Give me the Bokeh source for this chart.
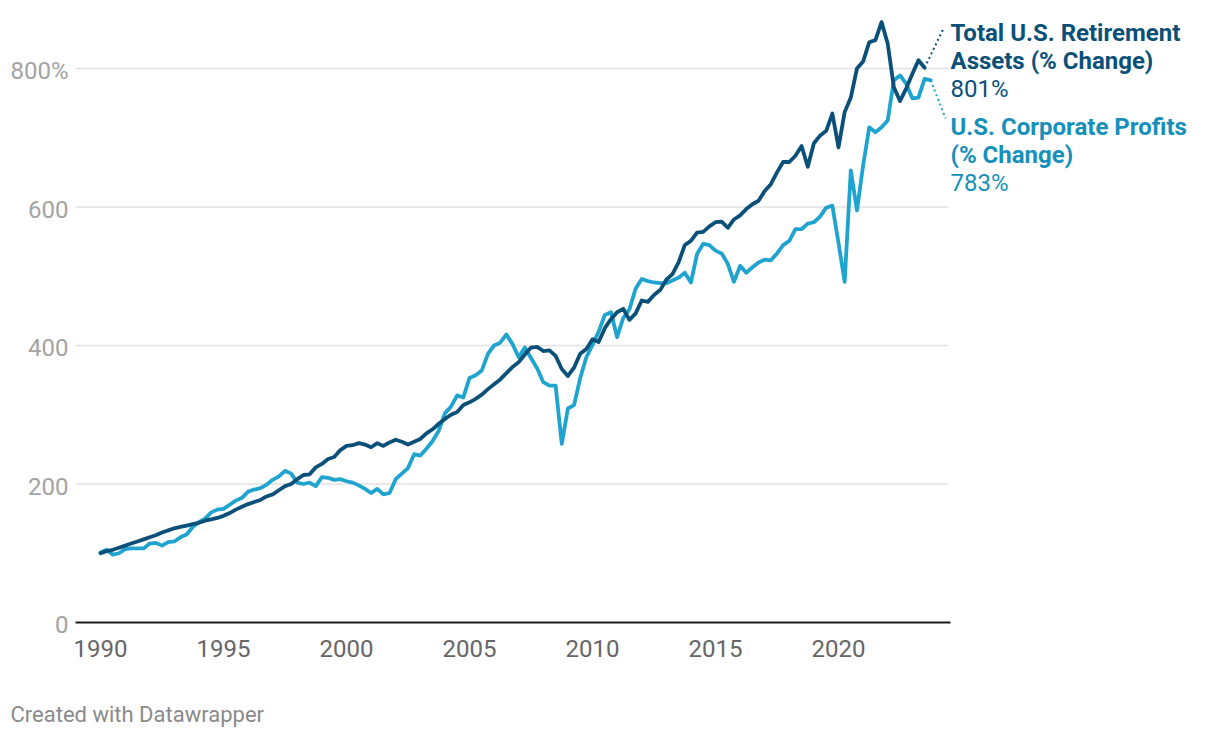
from bokeh.plotting import figure
from bokeh.models import Range1d
from bokeh.core.properties import value
from bokeh.embed import file_html
from bokeh.resources import INLINE

# ---- data (quarterly, % of 1990 level) ----
start_year = 1990.0
retirement = [
    100, 103, 105, 108, 111, 114, 117, 120, 123, 126, 130, 133,
    136, 138, 140, 142, 144, 147, 149, 151, 154, 158, 163, 167,
    171, 174, 177, 182, 185, 191, 197, 200, 207, 213, 214, 224,
    229, 236, 239, 249, 255, 256, 259, 257, 253, 259, 255, 260,
    264, 261, 257, 261, 265, 273, 279, 287, 294, 300, 304, 314,
    318, 323, 329, 337, 344, 351, 360, 369, 376, 387, 397, 398,
    392, 393, 385, 366, 356, 368, 388, 395, 409, 405, 425, 438,
    448, 453, 437, 446, 465, 463, 473, 480, 495, 503, 520, 545,
    551, 563, 564, 572, 578, 579, 570, 582, 588, 597, 604, 609,
    623, 633, 650, 665, 665, 674, 688, 658, 692, 703, 710, 735,
    686, 737, 758, 800, 810, 838, 841, 867, 836, 773, 753, 771,
    792, 812, 801,
]
profits = [
    101, 105, 98, 100, 106, 107, 107, 107, 114, 115, 111, 116,
    117, 123, 127, 138, 145, 150, 159, 163, 164, 170, 176, 180,
    189, 192, 194, 199, 206, 211, 219, 215, 202, 200, 202, 197,
    210, 209, 206, 207, 204, 202, 198, 193, 187, 193, 185, 187,
    207, 215, 223, 243, 241, 251, 262, 277, 302, 312, 328, 325,
    353, 357, 364, 388, 400, 404, 416, 402, 383, 397, 382, 367,
    347, 342, 342, 258, 309, 314, 353, 383, 401, 420, 444, 448,
    412, 440, 452, 482, 496, 493, 491, 490, 490, 494, 498, 505,
    491, 532, 547, 545, 537, 533, 518, 492, 515, 505, 513, 520,
    524, 523, 533, 545, 551, 568, 568, 576, 578, 586, 599, 602,
    548, 492, 653, 595, 660, 715, 708, 715, 725, 783, 790, 778,
    757, 758, 785, 783,
]
x_ticks = [1990, 1995, 2000, 2005, 2010, 2015, 2020]
x_tick_labels = ["1990", "1995", "2000", "2005", "2010", "2015", "2020"]
y_ticks = [0, 200, 400, 600, 800]
y_tick_labels = ["0", "200", "400", "600", "800%"]

ret_name = ["Total U.S. Retirement", "Assets (% Change)"]
prof_name = ["U.S. Corporate Profits", "(% Change)"]
credit = "Created with Datawrapper"

DARK = "#0b5079"
LIGHT = "#1ea4cf"
LIGHT_TXT = "#1690ba"
FONT = value("Roboto")

t_ret = [start_year + 0.25 * i for i in range(len(retirement))]
t_prof = [start_year + 0.25 * i for i in range(len(profits))]

# page geometry helpers: 24.6 px per year, 554 px per 800 units
W, H = 1212, 730
px_year = 24.6
px_unit = 554 / 800
X_ORIG, Y_ORIG = 100, 622   # pixel of (1990, 0)

def X(px):
    return 1990 + (px - X_ORIG) / px_year

def Y(py):
    return (Y_ORIG - py) / px_unit

p = figure(width=W, height=H, output_backend="svg", toolbar_location=None,
           x_range=Range1d(X(0), X(W)), y_range=Range1d(Y(H), Y(0)),
           x_axis_type=None, y_axis_type=None,
           min_border=0, min_border_left=0, min_border_right=0,
           min_border_top=0, min_border_bottom=0)
p.outline_line_color = None
p.background_fill_color = "white"
p.border_fill_color = "white"
p.xgrid.visible = False
p.ygrid.visible = False

left, right = X(75), X(948)

# gridlines
g = y_ticks[1:]
p.segment(x0=[left] * len(g), y0=g, x1=[right] * len(g), y1=g,
          line_color="#e2e2e2", line_width=1.5)

# y tick labels
p.text(x=[X(68)] * len(y_ticks), y=[v - 2 / px_unit for v in y_ticks], text=y_tick_labels,
       text_font=FONT, text_font_size="24px", text_color="#a3a3a3",
       text_align="right", text_baseline="middle")

# x tick labels
p.text(x=x_ticks, y=[Y(648)] * len(x_ticks), text=x_tick_labels,
       text_font=FONT, text_font_size="24px", text_color="#666666",
       text_align="center", text_baseline="middle")

# lines
p.line(t_prof, profits, line_color=LIGHT, line_width=3.8, line_join="round", line_cap="round")
p.line(t_ret, retirement, line_color=DARK, line_width=3.8, line_join="round", line_cap="round")

# x axis baseline
p.segment(x0=[left], y0=[0], x1=[X(950)], y1=[0], line_color="#1a1a1a", line_width=2)

# dotted leaders from the series ends to their labels
p.line([t_ret[-1], X(943)], [retirement[-1], Y(28)], line_color=DARK, line_width=2, line_dash="2 3")
p.line([t_prof[-1], X(945)], [profits[-1], Y(118)], line_color=LIGHT, line_width=2, line_dash="2 3")

# series labels
lab_x = X(950)
p.text(x=[lab_x] * 4, y=[Y(32), Y(60), Y(126), Y(154)],
       text=[ret_name[0], ret_name[1], prof_name[0], prof_name[1]],
       text_font=FONT, text_font_size="24px", text_font_style="bold",
       text_color=[DARK, DARK, LIGHT_TXT, LIGHT_TXT],
       text_align="left", text_baseline="middle")
p.text(x=[lab_x] * 2, y=[Y(88), Y(182)],
       text=[f"{retirement[-1]}%", f"{profits[-1]}%"],
       text_font=FONT, text_font_size="24px",
       text_color=[DARK, LIGHT_TXT],
       text_align="left", text_baseline="middle")

# credit
p.text(x=[X(10)], y=[Y(714)], text=[credit],
       text_font=FONT, text_font_size="22px", text_color="#8a8a8a",
       text_align="left", text_baseline="middle")

open("out.html", "w").write(file_html(p, INLINE))
